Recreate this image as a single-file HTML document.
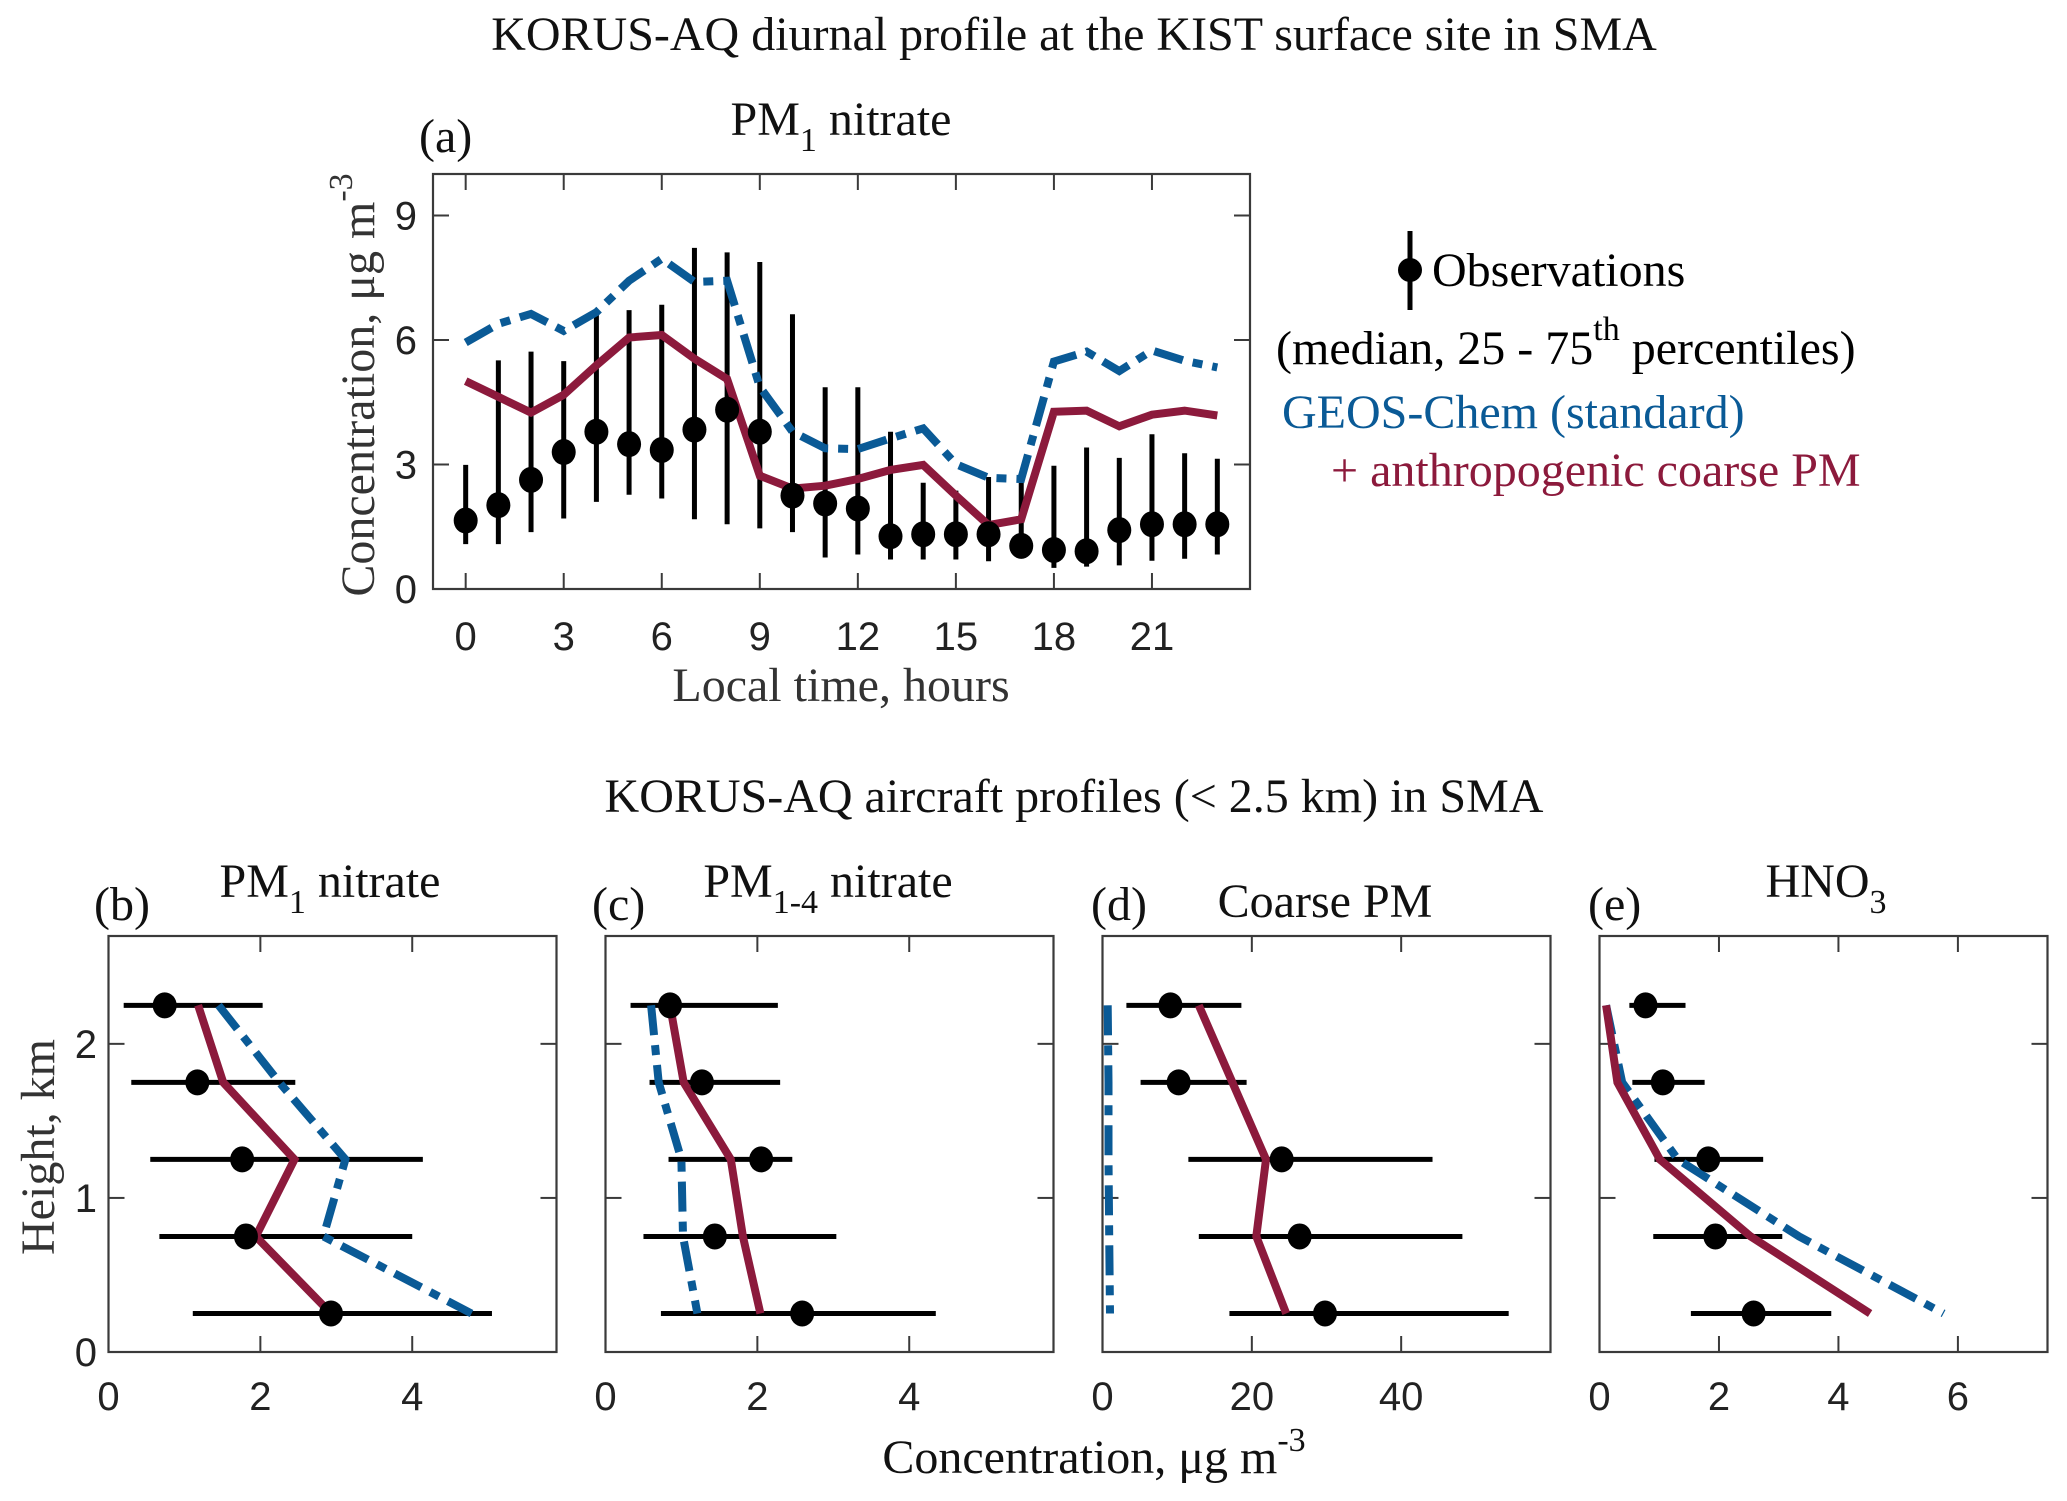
<!DOCTYPE html>
<html><head><meta charset="utf-8"><style>
body{margin:0;background:#fff;}
svg{display:block;}
.serif{font-family:"Liberation Serif",serif;}
.sans{font-family:"Liberation Sans",sans-serif;}
</style></head><body>
<svg id="fig" width="2067" height="1501" viewBox="0 0 2067 1501" xmlns="http://www.w3.org/2000/svg">
<text class="serif" x="1074" y="50" font-size="48" text-anchor="middle" fill="#111">KORUS-AQ diurnal profile at the KIST surface site in SMA</text>
<text class="serif" x="841" y="135" font-size="48" text-anchor="middle" fill="#111">PM<tspan font-size="34" dy="16">1</tspan><tspan dy="-16"> nitrate</tspan></text>
<text class="serif" x="419" y="152" font-size="48" fill="#111">(a)</text>
<text class="serif" x="0" y="0" font-size="48" text-anchor="middle" fill="#333" transform="translate(374,385) rotate(-90)">Concentration, μg m<tspan font-size="34" dy="-22">-3</tspan></text>
<text class="serif" x="841" y="701" font-size="48" text-anchor="middle" fill="#333">Local time, hours</text>
<g>
<line x1="1410" y1="231" x2="1410" y2="310" stroke="#000" stroke-width="5"/>
<circle cx="1410" cy="270" r="12" fill="#000"/>
<text class="serif" x="1432" y="286" font-size="48" fill="#000">Observations</text>
<text class="serif" x="1276" y="364" font-size="48" fill="#000">(median, 25 - 75<tspan font-size="34" dy="-24">th</tspan><tspan dy="24"> percentiles)</tspan></text>
<text class="serif" x="1282" y="428" font-size="48" fill="#0a5a96">GEOS-Chem (standard)</text>
<text class="serif" x="1331" y="486" font-size="48" fill="#8c1a3c">+ anthropogenic coarse PM</text>
</g>
<text class="serif" x="1074" y="812" font-size="48" text-anchor="middle" fill="#111">KORUS-AQ aircraft profiles (&lt; 2.5 km) in SMA</text>
<text class="serif" x="0" y="0" font-size="48" text-anchor="middle" fill="#333" transform="translate(54,1147) rotate(-90)">Height, km</text>
<text class="serif" x="1094" y="1473" font-size="48" text-anchor="middle" fill="#111">Concentration, μg m<tspan font-size="34" dy="-22">-3</tspan></text>
<text class="serif" x="330" y="897" font-size="48" text-anchor="middle" fill="#111">PM<tspan font-size="34" dy="16">1</tspan><tspan dy="-16"> nitrate</tspan></text>
<text class="serif" x="828" y="897" font-size="48" text-anchor="middle" fill="#111">PM<tspan font-size="34" dy="16">1-4</tspan><tspan dy="-16"> nitrate</tspan></text>
<text class="serif" x="1325" y="917" font-size="48" text-anchor="middle" fill="#111">Coarse PM</text>
<text class="serif" x="1826" y="897" font-size="48" text-anchor="middle" fill="#111">HNO<tspan font-size="34" dy="16">3</tspan></text>
<text class="serif" x="94" y="920" font-size="48" fill="#111">(b)</text>
<text class="serif" x="592" y="920" font-size="48" fill="#111">(c)</text>
<text class="serif" x="1091" y="920" font-size="48" fill="#111">(d)</text>
<text class="serif" x="1588" y="920" font-size="48" fill="#111">(e)</text>
</svg>
<script>
// ---- Panel (a) data ----
const hours = [0,1,2,3,4,5,6,7,8,9,10,11,12,13,14,15,16,17,18,19,20,21,22,23];
const obsMedian = [1.65,2.02,2.63,3.30,3.79,3.49,3.35,3.84,4.32,3.79,2.25,2.06,1.94,1.27,1.32,1.32,1.32,1.04,0.94,0.91,1.42,1.56,1.56,1.56];
const obsP25 = [1.08,1.08,1.37,1.70,2.10,2.27,2.18,1.68,1.56,1.46,1.37,0.76,0.83,0.71,0.71,0.71,0.67,0.78,0.51,0.54,0.57,0.68,0.73,0.83];
const obsP75 = [2.99,5.51,5.72,5.49,6.65,6.72,6.85,8.22,8.11,7.88,6.62,4.86,4.86,3.79,2.56,2.37,2.70,2.56,2.97,3.41,3.16,3.73,3.27,3.14];
const geosStd = [5.94,6.39,6.63,6.22,6.67,7.43,7.96,7.40,7.43,4.87,3.79,3.39,3.37,3.63,3.87,3.01,2.68,2.65,5.48,5.72,5.25,5.75,5.50,5.34];
const geosCoarse = [5.01,4.63,4.25,4.68,5.39,6.06,6.12,5.55,5.06,2.73,2.42,2.49,2.65,2.87,2.99,2.25,1.54,1.68,4.27,4.30,3.92,4.20,4.30,4.18];
const xTicksA = [0,3,6,9,12,15,18,21];
const yTicksA = [0,3,6,9];

// ---- Bottom panels data ----
const heights = [2.25,1.75,1.25,0.75,0.25];
const yTicksB = [0,1,2];
const bObsMed = [0.74,1.17,1.76,1.81,2.93];
const bObsLo = [0.20,0.30,0.55,0.67,1.11];
const bObsHi = [2.03,2.46,4.14,4.00,5.05];
const bStd = [1.45,2.25,3.12,2.83,4.78];
const bCoarse = [1.18,1.51,2.45,1.94,2.93];
const bTicks = [0,2,4];
const cObsMed = [0.85,1.27,2.05,1.44,2.59];
const cObsLo = [0.33,0.58,0.83,0.50,0.73];
const cObsHi = [2.27,2.30,2.46,3.04,4.35];
const cStd = [0.60,0.70,1.00,1.02,1.21];
const cCoarse = [0.85,1.03,1.65,1.81,2.04];
const cTicks = [0,2,4];
const dObsMed = [9.1,10.2,24.0,26.4,29.8];
const dObsLo = [3.2,5.1,11.5,12.9,17.0];
const dObsHi = [18.6,19.3,44.2,48.2,54.4];
const dStd = [0.7,0.8,0.8,0.9,1.0];
const dCoarse = [12.9,17.4,21.9,20.6,24.6];
const dTicks = [0,20,40];
const eObsMed = [0.77,1.06,1.82,1.94,2.58];
const eObsLo = [0.50,0.55,0.92,0.90,1.53];
const eObsHi = [1.44,1.76,2.74,3.06,3.88];
const eStd = [0.11,0.38,1.31,3.34,5.76];
const eCoarse = [0.11,0.30,1.01,2.53,4.53];
const eTicks = [0,2,4,6];

const NS = 'http://www.w3.org/2000/svg';
const svg = document.getElementById('fig');
const BLUE = '#0a5a96', RED = '#8c1a3c', AX = '#3a3a3a';
function mk(tag, attrs, parent) {
  const el = document.createElementNS(NS, tag);
  for (const k in attrs) el.setAttribute(k, attrs[k]);
  (parent || svg).appendChild(el);
  return el;
}
function linScale(d0, d1, r0, r1) { return v => r0 + (v - d0) / (d1 - d0) * (r1 - r0); }

function drawBox(g, L, T, R, B, xs, xt, ys, yt, xlblY, ylblX, fs) {
  const rect = mk('rect', {x:L, y:T, width:R-L, height:B-T, fill:'none', stroke:AX, 'stroke-width':2.2}, g);
  
  
  const tl = 16;
  xt.forEach(v => {
    const x = xs(v);
    const t1 = mk('line', {x1:x, y1:B, x2:x, y2:B-tl, stroke:AX, 'stroke-width':2}, g);
    
    
    const t2 = mk('line', {x1:x, y1:T, x2:x, y2:T+tl, stroke:AX, 'stroke-width':2}, g);
    
    
    const lb = mk('text', {x:x, y:xlblY, 'font-size':fs, 'text-anchor':'middle', fill:'#222', 'class':'sans'}, g);
    lb.textContent = v;
    
    
  });
  yt.forEach(v => {
    const y = ys(v);
    const t1 = mk('line', {x1:L, y1:y, x2:L+tl, y2:y, stroke:AX, 'stroke-width':2}, g);
    
    
    const t2 = mk('line', {x1:R, y1:y, x2:R-tl, y2:y, stroke:AX, 'stroke-width':2}, g);
    
    
    const lb = mk('text', {x:ylblX, y:y+14, 'font-size':fs, 'text-anchor':'end', fill:'#222', 'class':'sans'}, g);
    lb.textContent = v;
    
    
  });
}
function polyline(g, pts, color, dashed, name) {
  const p = mk('polyline', {points: pts.map(q => q[0].toFixed(1)+','+q[1].toFixed(1)).join(' '), fill:'none', stroke:color, 'stroke-width':8, 'stroke-linejoin':'miter'}, g);
  if (dashed) p.setAttribute('stroke-dasharray', '30 10 10 10');
  
  
}

// ---- Panel (a) ----
(function(){
  const g = mk('g', {});
  
  
  const L = 433, R = 1250, T = 174, B = 589;
  const xs = linScale(-1, 24, L, R), ys = linScale(0, 10, B, T);
  drawBox(g, L, T, R, B, xs, xTicksA, ys, yTicksA, 650, 417, 40);
  hours.forEach((h, i) => {
    const e = mk('line', {x1:xs(h), y1:ys(obsP25[i]), x2:xs(h), y2:ys(obsP75[i]), stroke:'#000', 'stroke-width':5}, g);
    
    
  });
  polyline(g, hours.map((h,i)=>[xs(h), ys(geosStd[i])]), BLUE, true, 'geos-chem-standard-line');
  polyline(g, hours.map((h,i)=>[xs(h), ys(geosCoarse[i])]), RED, false, 'geos-chem-coarse-line');
  hours.forEach((h, i) => {
    const c = mk('ellipse', {cx:xs(h), cy:ys(obsMedian[i]), rx:12, ry:13, fill:'#000'}, g);
    
    
  });
})();

// ---- Bottom panels ----
const panels = [
  {name:'panel-b', L:108.5, xmax:5.9, ticks:bTicks, med:bObsMed, lo:bObsLo, hi:bObsHi, std:bStd, co:bCoarse},
  {name:'panel-c', L:605.5, xmax:5.9, ticks:cTicks, med:cObsMed, lo:cObsLo, hi:cObsHi, std:cStd, co:cCoarse},
  {name:'panel-d', L:1102.5, xmax:60, ticks:dTicks, med:dObsMed, lo:dObsLo, hi:dObsHi, std:dStd, co:dCoarse},
  {name:'panel-e', L:1599.5, xmax:7.5, ticks:eTicks, med:eObsMed, lo:eObsLo, hi:eObsHi, std:eStd, co:eCoarse}
];
panels.forEach((p, idx) => {
  const g = mk('g', {});
  
  
  const L = p.L, R = p.L + 448, T = 936, B = 1352;
  const xs = linScale(0, p.xmax, L, R), ys = linScale(0, 2.7, B, T);
  drawBox(g, L, T, R, B, xs, p.ticks, ys, idx === 0 ? yTicksB : [], 1410, 97, 40);
  if (idx !== 0) {
    yTicksB.forEach(v => {
      const y = ys(v);
      const t1 = mk('line', {x1:L, y1:y, x2:L+16, y2:y, stroke:AX, 'stroke-width':2}, g);
      
      
      const t2 = mk('line', {x1:R, y1:y, x2:R-16, y2:y, stroke:AX, 'stroke-width':2}, g);
      
      
    });
  }
  heights.forEach((h, i) => {
    const e = mk('line', {x1:xs(p.lo[i]), y1:ys(h), x2:xs(p.hi[i]), y2:ys(h), stroke:'#000', 'stroke-width':5}, g);
    
    
  });
  polyline(g, heights.map((h,i)=>[xs(p.std[i]), ys(h)]), BLUE, true, 'geos-chem-standard-line');
  polyline(g, heights.map((h,i)=>[xs(p.co[i]), ys(h)]), RED, false, 'geos-chem-coarse-line');
  heights.forEach((h, i) => {
    const c = mk('ellipse', {cx:xs(p.med[i]), cy:ys(h), rx:12, ry:13, fill:'#000'}, g);
    
    
  });
});
</script>
</body></html>
